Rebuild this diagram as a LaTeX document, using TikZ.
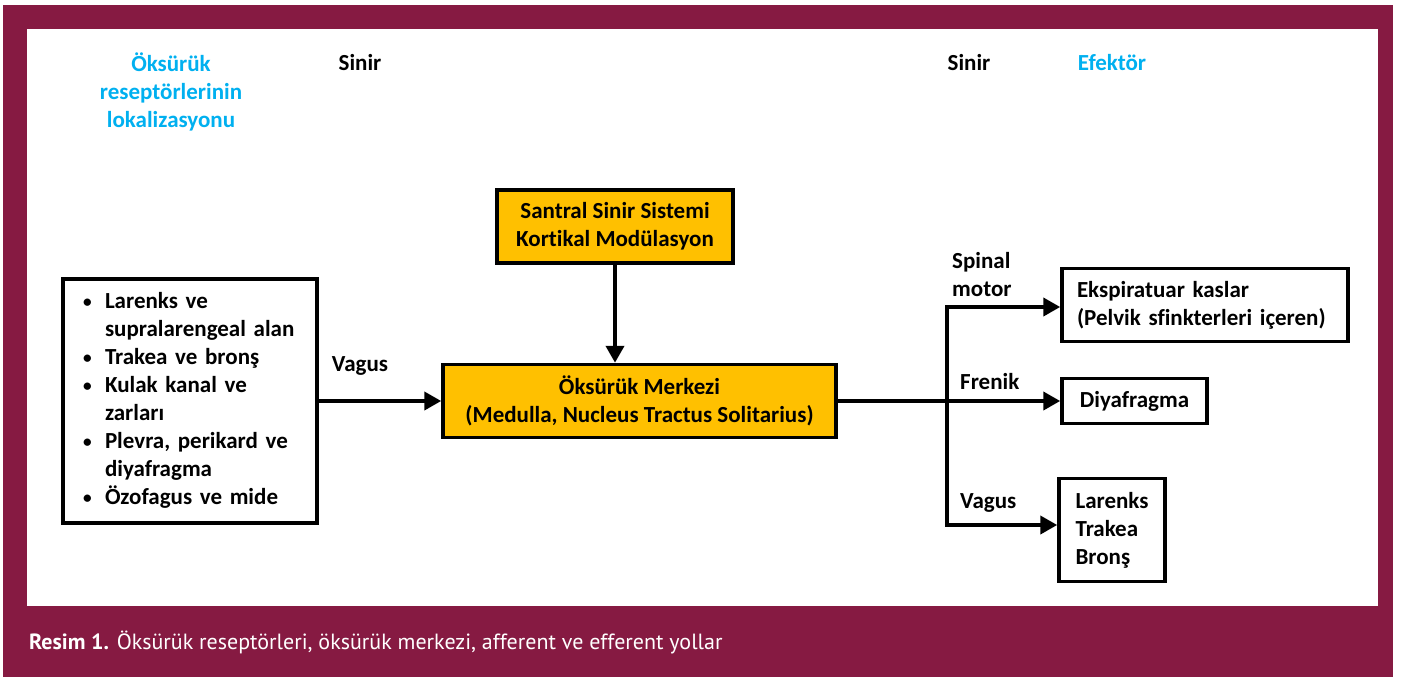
\documentclass[tikz,border=0pt]{standalone}
\usepackage{fontspec}
\setmainfont{Carlito}[Ligatures=NoCommon]
\newfontfamily\capfont{PT Sans}
\usetikzlibrary{arrows.meta}
\definecolor{bordo}{RGB}{134,26,66}
\definecolor{mavi}{RGB}{0,176,240}
\definecolor{turuncu}{RGB}{255,192,0}
\newcommand\madde{\makebox[23pt][l]{\hspace{1pt}\raisebox{1pt}{\scalebox{0.75}{\textbullet}}}}
\begin{document}
\begin{tikzpicture}[x=1pt,y=-1pt,
  every node/.style={font=\bfseries\fontsize{23}{28}\selectfont, inner sep=0pt},
  kutu/.style={draw=black, line width=3.5pt},
  sari/.style={kutu, fill=turuncu, align=center},
  ok/.style={line width=4pt, line join=miter, -{Triangle[length=17pt,width=18pt]}}]
\useasboundingbox (0,0) rectangle (1405,677);
\fill[bordo] (3,5) rectangle (1393,677);
\fill[white] (27,29) rectangle (1378,606);
\node[text=mavi, align=center] (lok) at (171,92) {Öksürük\\reseptörlerinin\\lokalizasyonu};
\foreach \x in {360,969} \node (sinir\x) at (\x,63) {Sinir};
\node[text=mavi] (efektor) at (1112,63) {Efektör};
\node[kutu, minimum width=254, minimum height=244, inner xsep=19pt, text width=216pt, align=left] (recep) at (190,401)
  {\begin{tabular}{@{}l@{}l@{}}
   \madde & Larenks ve\\
   & supralarengeal alan\\
   \madde & Trakea ve bronş\\
   \madde & Kulak kanal ve\\
   & zarları\\
   \madde & Plevra, perikard ve\\
   & diyafragma\\
   \madde & Özofagus ve mide
   \end{tabular}};
\node[sari, minimum width=236, minimum height=73] (santral) at (615,226.5) {Santral Sinir Sistemi\\Kortikal Modülasyon};
\node[sari, minimum width=393, minimum height=73] (merkez) at (639.5,401) {Öksürük Merkezi\\(Medulla, Nucleus Tractus Solitarius)};
\node[kutu, minimum width=286, minimum height=73, inner xsep=15pt, text width=256pt, align=left] (eksp) at (1205,305) {Ekspiratuar kaslar\\(Pelvik sfinkterleri içeren)};
\node[kutu, minimum width=145, minimum height=45] (diyaf) at (1134.5,401) {Diyafragma};
\node[kutu, minimum width=106, minimum height=103, align=left] (larenks) at (1112,530) {Larenks\\Trakea\\Bronş};
\node (vagus1) at (360,366) {Vagus};
\node[anchor=west, align=left] (spinal) at (952,275) {Spinal\\motor};
\node[anchor=west] (frenik) at (960,382) {Frenik};
\node[anchor=west] (vagus2) at (960,503) {Vagus};
\coordinate (dal) at (947,401);
\coordinate (dalust) at (947,307);
\coordinate (dalalt) at (947,525);
\draw[ok] (recep) -- (merkez);
\draw[ok] (santral.south) -- (santral.south |- merkez.north);
\draw[ok] (merkez.east) -- (diyaf.west);
\draw[ok] (dal) |- (dalust -| eksp.west);
\draw[ok] (dal) |- (dalalt -| larenks.west);
\node[anchor=west, text=white, font=\capfont\fontsize{22}{26}\selectfont] (yazi) at (29,642)
  {\textbf{Resim 1.} Öksürük reseptörleri, öksürük merkezi, afferent ve efferent yollar};
\end{tikzpicture}
\end{document}
